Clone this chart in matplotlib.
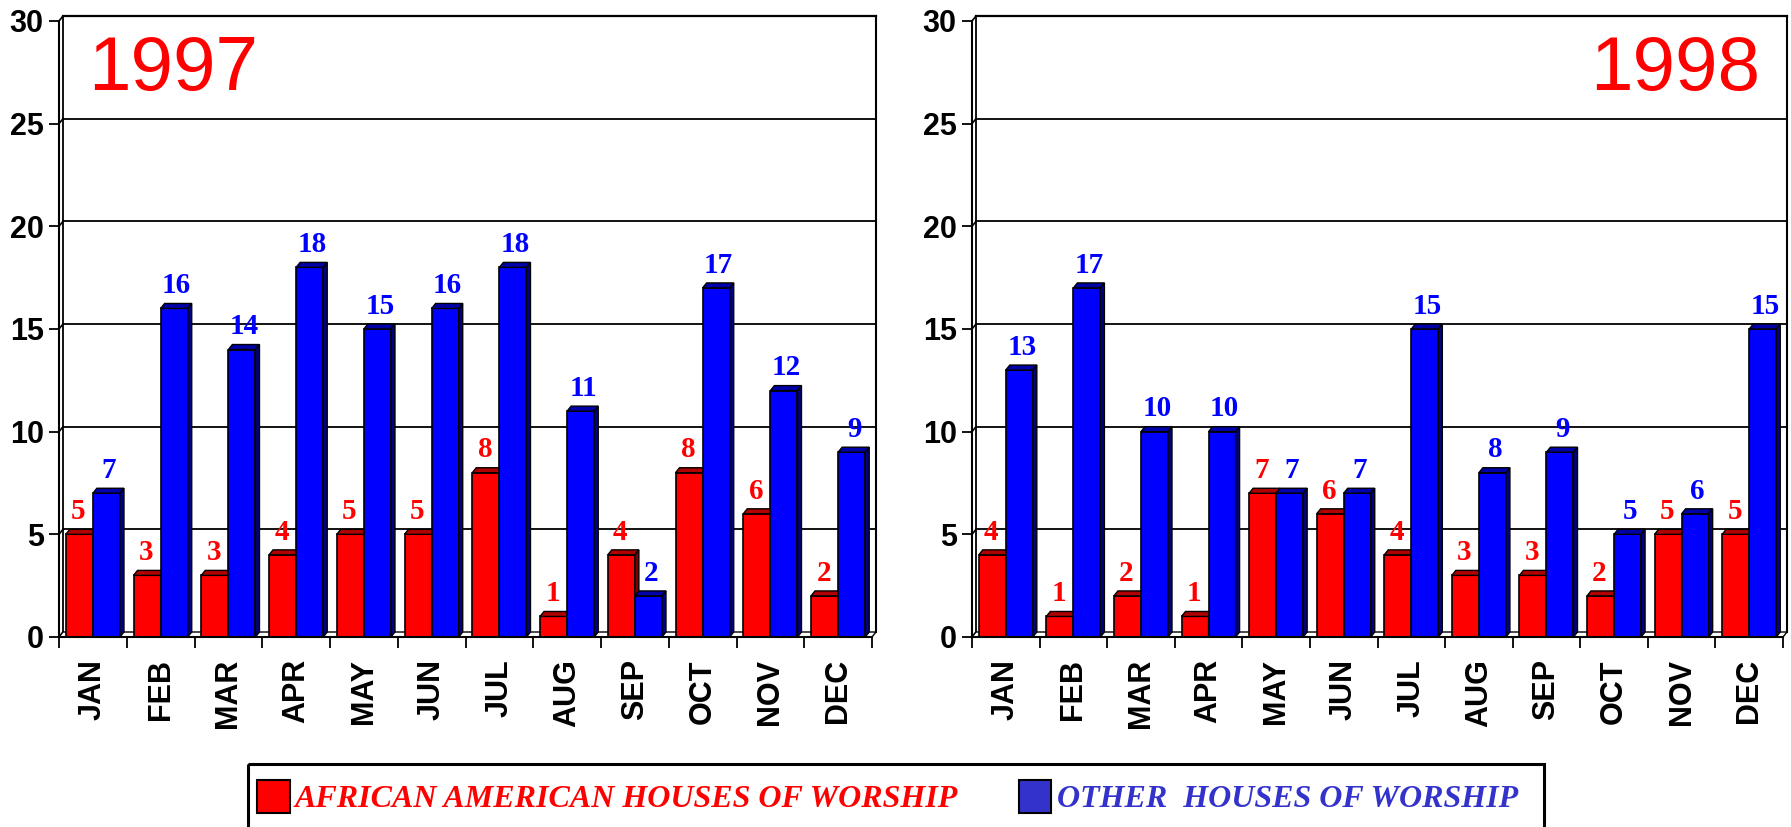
import matplotlib
matplotlib.use("Agg")
import matplotlib.pyplot as plt
from matplotlib.patches import Polygon, Rectangle

# ---------------- data ----------------
months = ["JAN", "FEB", "MAR", "APR", "MAY", "JUN",
          "JUL", "AUG", "SEP", "OCT", "NOV", "DEC"]
years = ["1997", "1998"]
african_1997 = [5, 3, 3, 4, 5, 5, 8, 1, 4, 8, 6, 2]
other_1997 = [7, 16, 14, 18, 15, 16, 18, 11, 2, 17, 12, 9]
african_1998 = [4, 1, 2, 1, 7, 6, 4, 3, 3, 2, 5, 5]
other_1998 = [13, 17, 10, 10, 7, 7, 15, 8, 9, 5, 6, 15]
y_ticks = [0, 5, 10, 15, 20, 25, 30]
series_names = ["AFRICAN AMERICAN HOUSES OF WORSHIP", "OTHER  HOUSES OF WORSHIP"]

# ---------------- style ----------------
W, H = 1791, 827
RED = "#FF0000"
RED_TOP = "#B00000"
RED_SIDE = "#800000"
BLUE = "#0000FF"
BLUE_TOP = "#0000A8"
BLUE_SIDE = "#000080"
LEG_BLUE = "#3333CC"
DEPTH_X, DEPTH_Y = 4.0, 5.0   # pixels
SANS = ["Liberation Sans Narrow", "Liberation Sans", "DejaVu Sans"]
SERIF = ["Liberation Serif", "DejaVu Serif"]

fig = plt.figure(figsize=(W / 100, H / 100), dpi=100)
fig.patch.set_facecolor("white")


def px_rect(x0, x1, yb, yt):
    return [x0 / W, (H - yb) / H, (x1 - x0) / W, (yb - yt) / H]


def draw_panel(rect, red_vals, blue_vals):
    ax = fig.add_axes(rect)
    n = len(months)
    ymax = y_ticks[-1]
    ax.set_xlim(0, n)
    ax.set_ylim(0, ymax)
    ax.set_facecolor("none")
    wpx = rect[2] * W
    hpx = rect[3] * H
    dx = DEPTH_X / (wpx / n)
    dy = DEPTH_Y / (hpx / ymax)

    # back wall / floor / side wall
    for y in y_ticks[1:]:
        ax.plot([dx, n + dx], [y + dy, y + dy], color="black",
                lw=1.3 if y < ymax else 1.6, clip_on=False, zorder=1)
    for y in y_ticks:
        ax.plot([0, dx], [y, y + dy], color="black", lw=1.2,
                clip_on=False, zorder=1)
    ax.plot([dx, dx], [dy, ymax + dy], color="black", lw=1.3,
            clip_on=False, zorder=1)
    ax.plot([n + dx, n + dx], [dy, ymax + dy], color="black", lw=1.5,
            clip_on=False, zorder=1)
    ax.add_patch(Polygon([(0, 0), (n, 0), (n + dx, dy), (dx, dy)],
                         closed=True, facecolor="white", edgecolor="black",
                         lw=1.0, clip_on=False, zorder=1.5))

    bw = 0.4
    for i in range(n):
        for k, (vals, fc, tc, sc, z) in enumerate([
                (red_vals, RED, RED_TOP, RED_SIDE, 2.0),
                (blue_vals, BLUE, BLUE_TOP, BLUE_SIDE, 2.4)]):
            x0 = i + 0.1 + k * bw
            x1 = x0 + bw
            h = vals[i]
            ax.bar(x0, h, width=bw, align="edge", color=fc,
                   edgecolor="black", lw=1.2, zorder=z)
            ax.add_patch(Polygon([(x0, h), (x1, h), (x1 + dx, h + dy),
                                  (x0 + dx, h + dy)], closed=True,
                                 facecolor=tc, edgecolor="black", lw=1.0,
                                 zorder=z + 0.1, clip_on=False))
            ax.add_patch(Polygon([(x1, 0), (x1, h), (x1 + dx, h + dy),
                                  (x1 + dx, dy)], closed=True,
                                 facecolor=sc, edgecolor="black", lw=1.0,
                                 zorder=z + 0.1, clip_on=False))
            xoff = -1 if k == 0 else 2.5
            ax.annotate(str(h), xy=((x0 + x1) / 2, h),
                        xytext=(xoff * 0.72, 11.0), textcoords="offset points",
                        ha="center", va="baseline", color=fc,
                        fontsize=21, fontweight="bold", family=SERIF,
                        zorder=5, annotation_clip=False)

    for s in ["top", "right"]:
        ax.spines[s].set_visible(False)
    for s in ["left", "bottom"]:
        ax.spines[s].set_linewidth(1.5)
        ax.spines[s].set_zorder(3)
    ax.set_yticks(y_ticks)
    ax.set_yticklabels([str(t) for t in y_ticks])
    ax.tick_params(axis="y", direction="out", length=7, width=1.3,
                   labelsize=22, pad=4)
    ax.set_xticks(range(n + 1))
    ax.set_xticklabels([])
    ax.tick_params(axis="x", which="major", direction="out", length=8,
                   width=1.3)
    ax.set_xticks([i + 0.5 for i in range(n)], minor=True)
    ax.set_xticklabels(months, minor=True)
    ax.tick_params(axis="x", which="minor", length=0, pad=16, labelsize=22)
    for lbl in ax.get_yticklabels() + ax.get_xticklabels(minor=True):
        lbl.set_fontfamily(SANS)
        lbl.set_fontweight("bold")
    for lbl in ax.get_xticklabels(minor=True):
        lbl.set_rotation(90)
    return ax


draw_panel(px_rect(59, 872, 637, 21), african_1997, other_1997)
draw_panel(px_rect(972, 1783, 637, 21), african_1998, other_1998)

# overlay in pixel coordinates for year labels and legend
ov = fig.add_axes([0, 0, 1, 1])
ov.set_xlim(0, W)
ov.set_ylim(H, 0)
ov.axis("off")

ov.text(88, 90, years[0], color=RED, fontsize=55, family=["Liberation Sans"],
        ha="left", va="baseline")
ov.text(1760, 90, years[1], color=RED, fontsize=55, family=["Liberation Sans"],
        ha="right", va="baseline")

ov.add_patch(Rectangle((248, 764), 1544 - 248, 70, fill=False,
                       edgecolor="black", lw=2.2, clip_on=False))
ov.add_patch(Rectangle((257, 780), 33, 33, facecolor=RED,
                       edgecolor="black", lw=1.5))
ov.add_patch(Rectangle((1019, 780), 32, 33, facecolor=LEG_BLUE,
                       edgecolor="black", lw=1.5))
ov.text(295, 807, series_names[0], color=RED, fontsize=23, fontweight="bold",
        fontstyle="italic", family=SERIF, ha="left", va="baseline")
ov.text(1057, 807, series_names[1], color=LEG_BLUE, fontsize=23,
        fontweight="bold", fontstyle="italic", family=SERIF, ha="left",
        va="baseline")

fig.savefig("out.png", dpi=100, facecolor="white")
